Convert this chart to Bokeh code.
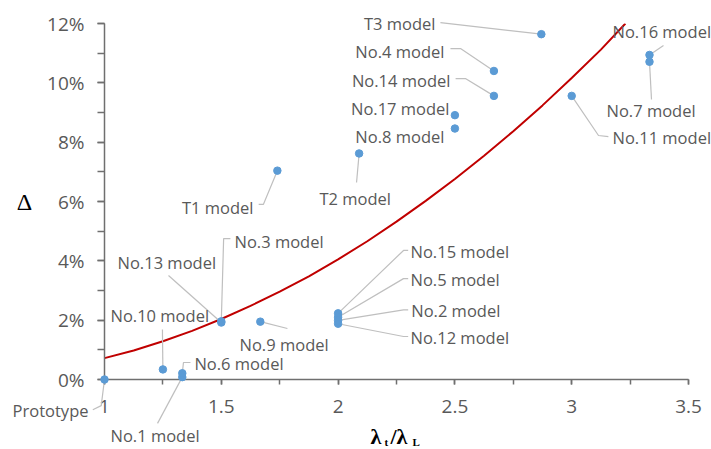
from bokeh.plotting import figure
from bokeh.models import SingleIntervalTicker, CustomJSTickFormatter, Range1d
from bokeh.core.properties import value
from bokeh.embed import file_html
from bokeh.resources import INLINE

# ---- data ----
names = ["Prototype", "No.1 model", "No.6 model", "No.10 model", "No.13 model",
         "No.3 model", "No.9 model", "No.15 model", "No.5 model", "No.2 model",
         "No.12 model", "T1 model", "T2 model", "No.8 model", "No.17 model",
         "No.14 model", "No.4 model", "T3 model", "No.11 model", "No.7 model",
         "No.16 model"]
ratio = [1.0, 1.333, 1.333, 1.25, 1.5, 1.5, 1.667, 2.0, 2.0, 2.0, 2.0,
         1.74, 2.09, 2.5, 2.5, 2.667, 2.667, 2.87, 3.0, 3.333, 3.333]
delta = [0.0, 0.08, 0.21, 0.34, 1.92, 1.96, 1.95, 2.23, 2.10, 1.99, 1.88,
         7.04, 7.62, 8.46, 8.91, 9.56, 10.40, 11.64, 9.56, 10.71, 10.94]

# trend line
curve_x = [1.0, 1.125, 1.25, 1.375, 1.5, 1.625, 1.75, 1.875, 2.0, 2.125, 2.25,
           2.375, 2.5, 2.625, 2.75, 2.875, 3.0, 3.125, 3.23]
curve_y = [0.72, 0.98, 1.29, 1.64, 2.04, 2.48, 2.96, 3.48, 4.05, 4.66, 5.32,
           6.02, 6.76, 7.54, 8.37, 9.24, 10.16, 11.12, 12.0]

x_ticks_interval = 0.5
y_ticks_interval = 2

# ---- label placement (annotation positions, data units) ----
label_pos = {
    "Prototype":   (0.9315, -1.045, "right"),
    "No.1 model":  (1.0257, -1.90, "left"),
    "No.6 model":  (1.385, 0.539, "left"),
    "No.10 model": (1.0257, 2.157, "left"),
    "No.13 model": (1.0557, 3.943, "left"),
    "No.3 model":  (1.5565, 4.651, "left"),
    "No.9 model":  (1.578, 1.18, "left"),
    "No.15 model": (2.31, 4.314, "left"),
    "No.5 model":  (2.31, 3.37, "left"),
    "No.2 model":  (2.313, 2.326, "left"),
    "No.12 model": (2.31, 1.416, "left"),
    "T1 model":    (1.638, 5.797, "right"),
    "T2 model":    (1.920, 6.10, "left"),
    "No.8 model":  (2.4555, 8.19, "right"),
    "No.17 model": (2.477, 9.134, "right"),
    "No.14 model": (2.481, 10.08, "right"),
    "No.4 model":  (2.4555, 11.05, "right"),
    "T3 model":    (2.417, 12.0, "right"),
    "No.11 model": (3.1747, 8.156, "left"),
    "No.7 model":  (3.149, 9.066, "left"),
    "No.16 model": (3.1747, 11.73, "left"),
}
leader_path = {
    "Prototype":   [(0.986, -0.88), (0.95, -1.02)],
    "No.1 model":  [(1.227, -1.48)],
    "No.6 model":  [(1.338, 0.573), (1.368, 0.573)],
    "No.10 model": [(1.248, 1.685)],
    "No.13 model": [(1.274, 3.505)],
    "No.3 model":  [(1.51, 4.75), (1.539, 4.75)],
    "No.9 model":  [(1.783, 1.719)],
    "No.15 model": [(2.28, 4.35), (2.30, 4.35)],
    "No.5 model":  [(2.28, 3.40), (2.30, 3.40)],
    "No.2 model":  [(2.28, 2.35), (2.30, 2.35)],
    "No.12 model": [(2.28, 1.45), (2.30, 1.45)],
    "T1 model":    [(1.68, 5.9), (1.66, 5.9)],
    "T2 model":    [(2.079, 6.64)],
    "No.14 model": [(2.545, 10.145), (2.503, 10.145)],
    "No.4 model":  [(2.524, 11.156), (2.481, 11.156)],
    "T3 model":    [(2.438, 12.03)],
    "No.11 model": [(3.1147, 8.224), (3.157, 8.19)],
    "No.7 model":  [(3.3416, 9.44)],
    "No.16 model": [(3.393, 11.257)],
}

p = figure(width=711, height=449, output_backend="svg", toolbar_location=None,
           x_range=Range1d(1, 3.5), y_range=Range1d(0, 12),
           min_border_left=104, min_border_right=23, min_border_top=23,
           min_border_bottom=70)
p.outline_line_color = None
p.xgrid.visible = False
p.ygrid.visible = False
p.background_fill_color = "white"

# trend line (clipped to the plot area like the original)
p.line(curve_x, curve_y, line_color="#C00000", line_width=2)

# leader lines
lx, ly = [], []
for n, xv, yv in zip(names, ratio, delta):
    if n in leader_path:
        pts = leader_path[n]
        lx.append([xv] + [q[0] for q in pts])
        ly.append([yv] + [q[1] for q in pts])
p.multi_line(lx, ly, line_color="#BFBFBF", line_width=1.2, level="overlay")

# points
p.scatter(ratio, delta, size=7.5, fill_color="#5B9BD5", line_color="#5B9BD5",
          level="overlay")

# data labels
for al in ("left", "right"):
    sel = [n for n in names if label_pos[n][2] == al]
    p.text([label_pos[n][0] for n in sel], [label_pos[n][1] for n in sel], text=sel,
           text_align=al, text_baseline="middle", text_font=value("Open Sans"),
           text_font_size="16.5px", text_color="#595959", level="overlay")

# axes
for ax in (p.xaxis[0], p.yaxis[0]):
    ax.axis_line_color = "#6F6F6F"
    ax.axis_line_width = 1.5
    ax.major_tick_line_color = "#6F6F6F"
    ax.minor_tick_line_color = "#6F6F6F"
    ax.major_tick_line_width = 1.5
    ax.minor_tick_line_width = 1.5
    ax.major_tick_in = 0
    ax.minor_tick_in = 0
    ax.major_label_text_font = "Open Sans"
    ax.major_label_text_font_size = "19px"
    ax.major_label_text_color = "#595959"

p.xaxis.ticker = SingleIntervalTicker(interval=x_ticks_interval, num_minor_ticks=2)
p.yaxis.ticker = SingleIntervalTicker(interval=y_ticks_interval, num_minor_ticks=2)
p.xaxis.formatter = CustomJSTickFormatter(code="return tick.toString();")
p.yaxis.formatter = CustomJSTickFormatter(code="return tick.toFixed(0) + '%';")
p.xaxis.major_tick_out = 5
p.xaxis.minor_tick_out = 5
p.yaxis.major_tick_out = 7
p.yaxis.minor_tick_out = 7
p.xaxis.major_label_standoff = 15
p.yaxis.major_label_standoff = 13

p.yaxis.axis_label = "Δ"
p.yaxis.axis_label_orientation = "horizontal"
p.yaxis.axis_label_text_font = "Liberation Serif"
p.yaxis.axis_label_text_font_style = "normal"
p.yaxis.axis_label_text_font_size = "24px"
p.yaxis.axis_label_text_color = "black"
p.yaxis.axis_label_standoff = 12

# x-axis title λt/λL built from text pieces
xt_text = ["λ", "t", "/λ", "L"]
xt_x = [2.1387, 2.1986, 2.2243, 2.318]
xt_y = [-1.92, -2.12, -1.92, -2.12]
xt_size = ["22px", "11px", "22px", "11px"]
for t, xx, yy, fs in zip(xt_text, xt_x, xt_y, xt_size):
    p.text([xx], [yy], text=[t], text_align="left", text_baseline="alphabetic",
           text_font=value("Liberation Serif"), text_font_style="bold",
           text_font_size=fs, text_color="black", level="overlay")

open("out.html", "w").write(file_html(p, INLINE))
